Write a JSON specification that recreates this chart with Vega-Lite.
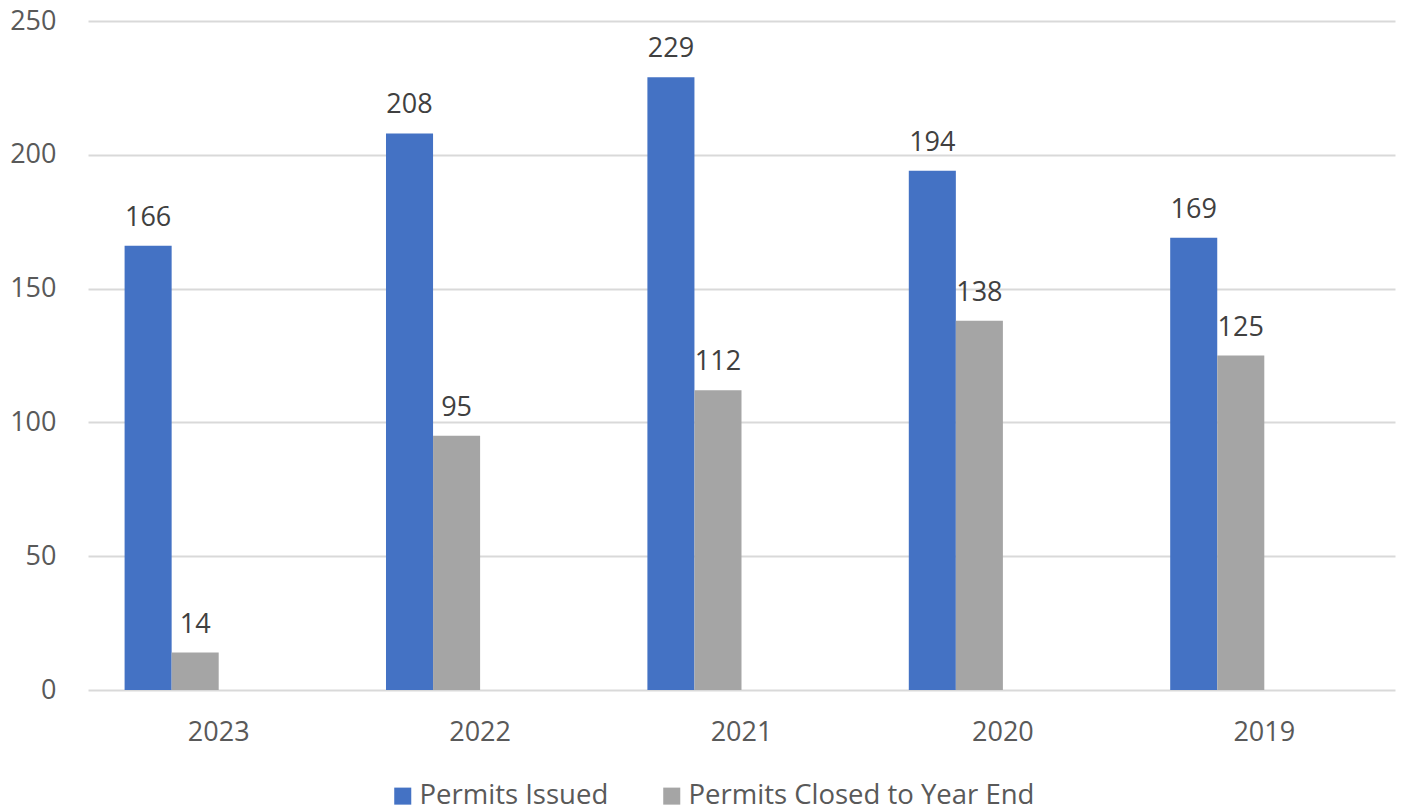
{
  "$schema": "https://vega.github.io/schema/vega-lite/v6.json",
  "width": 1307,
  "height": 669,
  "autosize": {"type": "none"},
  "padding": {"left": 88, "top": 21, "right": 8, "bottom": 122},
  "background": "white",
  "config": {
    "view": {"stroke": null},
    "font": "Open Sans",
    "text": {"font": "Open Sans"}
  },
  "data": {
    "values": [
      {"year": "2023", "series": "Permits Issued", "value": 166},
      {"year": "2023", "series": "Permits Closed to Year End", "value": 14},
      {"year": "2022", "series": "Permits Issued", "value": 208},
      {"year": "2022", "series": "Permits Closed to Year End", "value": 95},
      {"year": "2021", "series": "Permits Issued", "value": 229},
      {"year": "2021", "series": "Permits Closed to Year End", "value": 112},
      {"year": "2020", "series": "Permits Issued", "value": 194},
      {"year": "2020", "series": "Permits Closed to Year End", "value": 138},
      {"year": "2019", "series": "Permits Issued", "value": 169},
      {"year": "2019", "series": "Permits Closed to Year End", "value": 125}
    ]
  },
  "encoding": {
    "x": {
      "field": "year", "type": "nominal",
      "scale": {"domain": ["2023", "2022", "2021", "2020", "2019"], "paddingInner": 0.28, "paddingOuter": 0.14},
      "axis": {"title": null, "labelAngle": 0, "ticks": false, "domain": false, "labelFontSize": 27, "labelColor": "#595959", "labelPadding": 29, "labelFont": "Open Sans"}
    },
    "xOffset": {
      "field": "series",
      "scale": {"domain": ["Permits Issued", "Permits Closed to Year End", "_c", "_d"], "paddingInner": 0, "paddingOuter": 0}
    },
    "y": {
      "field": "value", "type": "quantitative",
      "scale": {"domain": [0, 250], "nice": false},
      "axis": {"title": null, "values": [0, 50, 100, 150, 200, 250], "ticks": false, "domain": false, "gridColor": "#D9D9D9", "gridWidth": 2, "labelFontSize": 27, "labelColor": "#595959", "labelPadding": 32, "labelFont": "Open Sans"}
    }
  },
  "layer": [
    {
      "mark": {"type": "bar"},
      "encoding": {
        "color": {
          "field": "series", "type": "nominal",
          "scale": {"domain": ["Permits Issued", "Permits Closed to Year End"], "range": ["#4472C4", "#A5A5A5"]},
          "legend": {
            "title": null, "orient": "none", "direction": "horizontal",
            "legendX": 301, "legendY": 761,
            "symbolType": "square", "symbolSize": 290, "symbolStrokeWidth": 0,
            "labelFontSize": 27.5, "labelColor": "#595959", "labelFont": "Open Sans",
            "columnPadding": 49, "labelOffset": 3, "labelLimit": 500
          }
        }
      }
    },
    {
      "mark": {"type": "text", "baseline": "alphabetic", "dy": -20, "fontSize": 27, "color": "#404040"},
      "encoding": {
        "text": {"field": "value", "type": "quantitative"}
      }
    }
  ]
}
